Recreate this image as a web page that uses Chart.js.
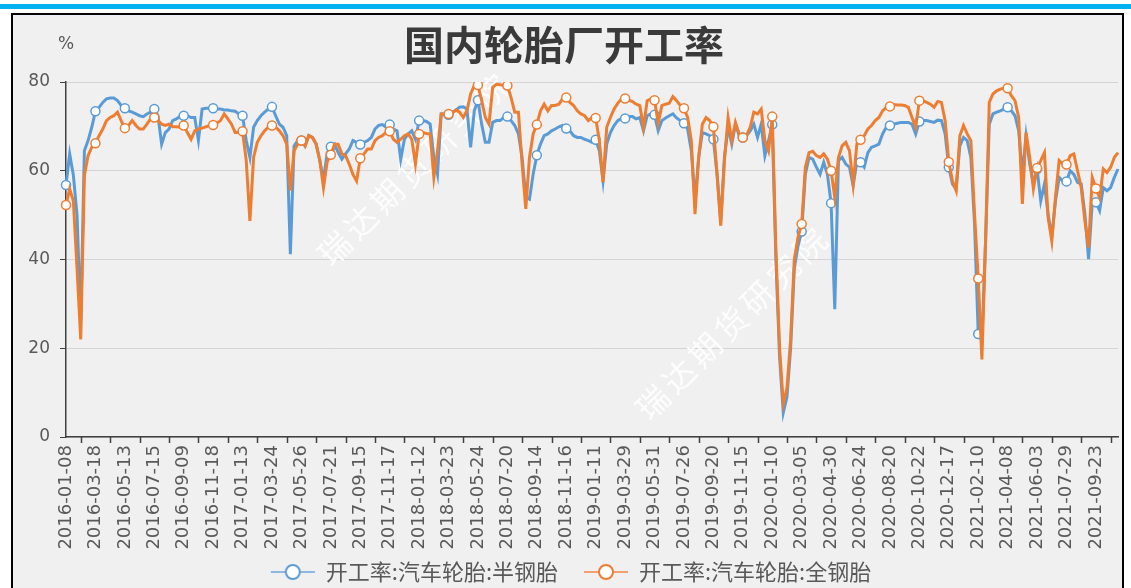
<!DOCTYPE html>
<html>
<head>
<meta charset="utf-8">
<script src="https://cdn.jsdelivr.net/npm/chart.js@4.4.1/dist/chart.umd.min.js"></script>
<style>
  html, body { margin: 0; padding: 0; overflow: hidden; background: #fff; }
</style>
</head>
<body>
<canvas id="tyreChart" width="1131" height="600"></canvas>
<script>
// weekly readings, one tick label every 8 weeks
const tickLabels = [
  '2016-01-08', '2016-03-18', '2016-05-13', '2016-07-15', '2016-09-09', '2016-11-18',
  '2017-01-13', '2017-03-24', '2017-05-26', '2017-07-21', '2017-09-15', '2017-11-17',
  '2018-01-12', '2018-03-23', '2018-05-24', '2018-07-20', '2018-09-14', '2018-11-16',
  '2019-01-11', '2019-03-29', '2019-05-31', '2019-07-26', '2019-09-20', '2019-11-15',
  '2020-01-10', '2020-03-05', '2020-04-30', '2020-06-24', '2020-08-20', '2020-10-22', '2020-12-17',
  '2021-02-10', '2021-04-08', '2021-06-03', '2021-07-29', '2021-09-23'
];

const seriesNames = ['开工率:汽车轮胎:半钢胎', '开工率:汽车轮胎:全钢胎'];

// 半钢胎
const semiSteel = [
  56.8, 63.8, 59, 50, 26, 64.5, 66.8, 69.8,
  73.4, 74.3, 75.4, 76.2, 76.4, 76.4, 75.8, 74.7,
  74.1, 73.5, 73.2, 72.8, 72.4, 72.2, 72.8, 73.2,
  73.9, 72.4, 66, 68.6, 69.4, 71.3, 71.7, 72.2,
  72.4, 72.4, 72, 72, 66.8, 73.9, 74.1, 74.1,
  74.1, 73.9, 73.9, 73.7, 73.7, 73.5, 73.4, 72.8,
  72.4, 66.8, 63, 69.8, 71.3, 72.4, 73.2, 73.9,
  74.4, 72.4, 70.5, 69.8, 67.9, 41.2, 65.6, 66.8,
  66.8, 65.6, 67.9, 67.5, 66, 62.3, 58, 64,
  65.4, 66, 64.1, 62.6, 63.8, 64.9, 66.8, 66.4,
  65.9, 66.4, 66.8, 67.5, 69.4, 70.2, 70.4, 69.8,
  70.4, 69.4, 69, 62.6, 67.1, 68.3, 69, 67.1,
  71.3, 71.3, 71.1, 70.5, 63, 59.2, 72.8, 72.8,
  72.6, 73.2, 73.7, 74.3, 74.4, 73.9, 65.3, 73.5,
  75.9, 70.5, 66.4, 66.4, 70.9, 71.3, 71.3, 72,
  72.2, 71.3, 70.2, 68.3, 63, 54, 53.6, 59.2,
  63.5, 66, 67.9, 68.3, 69, 69.4, 69.9, 70.2,
  69.5, 69, 67.9, 67.5, 67.5, 67.1, 66.8, 66.4,
  67, 64.5, 57.7, 66, 68.6, 70.2, 71.3, 71.8,
  71.8, 72.2, 72.2, 71.7, 72, 69, 72.4, 72.8,
  72.6, 69, 71.3, 71.9, 72.4, 72.8, 71.9, 71.3,
  70.7, 69.4, 64.5, 53.2, 63, 68.6, 68.3, 67.9,
  67.1, 59.2, 48.7, 63, 69.8, 66, 70.5, 67.9,
  67.5, 67.9, 69, 70.5, 67.5, 70.5, 63.4, 66.8,
  70.4, 40, 18, 5.5, 9, 20, 38, 43,
  46.3, 59.2, 63, 62.6, 60.8, 59.2, 61.9, 59.2,
  52.7, 28.8, 62.3, 63, 61.5, 60.8, 56.6, 62,
  61.9, 60.8, 64.1, 65.3, 65.6, 66, 68.3, 69.8,
  70.2, 70.5, 70.7, 70.9, 70.9, 70.9, 70.5, 68.3,
  71.1, 71.3, 71.3, 71.1, 70.9, 71.4, 71.3, 68.3,
  60.8, 57, 55.9, 65.6, 67.5, 66.8, 63, 48,
  23.2, 21.7, 44.2, 70.5, 72.8, 73.2, 73.5, 73.9,
  74.3, 73.5, 72.4, 69, 59.2, 67.9, 61.5, 57,
  60.4, 53.2, 57, 50.2, 45, 53.2, 58.5, 57.7,
  57.6, 60, 59.2, 57.4, 57, 50.2, 40.1, 52.9,
  52.9, 51, 56.2, 55.5, 56.2, 58.5, 60.4
];

// 全钢胎
const allSteel = [
  52.3, 55.9, 53.2, 38, 22, 59, 63.4, 65.3,
  66.2, 67.9, 69.4, 71.3, 72, 72.4, 73.2, 71.3,
  69.6, 70.2, 71.3, 70.2, 69.4, 69.4, 70.5, 71.7,
  72, 71.3, 70.5, 70.2, 70.5, 69.9, 69.9, 69.8,
  70.2, 68.6, 67.1, 69, 69.4, 69.6, 69.9, 70.2,
  70.3, 70.7, 71.3, 72.8, 71.7, 70.5, 68.6, 68.6,
  68.9, 62.3, 48.7, 63, 66.4, 67.9, 69, 69.8,
  70.2, 69.8, 69, 67.9, 66, 55.5, 64.5, 66,
  66.8, 65.6, 67.9, 67.5, 66, 62.3, 56.2, 62,
  63.6, 66, 66, 63.8, 63.4, 61.5, 59.2, 57.7,
  62.8, 63.8, 64.9, 64.9, 66.8, 67.5, 67.9, 68.6,
  68.9, 67.1, 66.4, 67.1, 67.9, 68.3, 67.1, 61.5,
  68.3, 68.6, 68.4, 68.3, 58.5, 64.5, 72.8, 72.8,
  72.8, 72.9, 73.7, 73.2, 72, 73.5, 77.3, 79.2,
  79.3, 75.8, 72, 70.5, 78.8, 79.5, 79.4, 79.2,
  79.2, 76.5, 73.2, 73.2, 61.5, 51.4, 63, 68.3,
  70.4, 73.5, 75, 73.5, 74.7, 74.7, 75, 76.2,
  76.5, 75.4, 74.7, 73.5, 72.8, 72.4, 71.3, 72,
  71.9, 66.8, 57.4, 69.8, 72, 73.9, 75.2, 76.2,
  76.3, 75.9, 75.6, 75, 74.7, 69.8, 75.8, 76.2,
  75.9, 70.7, 74.7, 75, 75.2, 76.7, 75.8, 74.7,
  74.1, 72, 66.8, 50.2, 63, 70.5, 72, 71.3,
  69.9, 59.2, 47.6, 62.3, 72, 66.8, 70.9, 68.3,
  67.5, 67.9, 69.8, 73.2, 72.8, 73.9, 66.8, 64.5,
  72.2, 42, 20, 7.5, 11, 22, 40, 45,
  48, 60.8, 64.1, 64.4, 63.4, 63, 63.8, 62.6,
  60, 54, 63, 65.6, 66.4, 64.5, 57, 66,
  67, 67.9, 69.4, 70.2, 71.3, 72, 73.5, 74.3,
  74.5, 74.9, 74.8, 74.8, 74.7, 74.3, 72, 69.8,
  75.8, 75.8, 75.4, 75, 74.3, 75.6, 75.4, 71.3,
  62, 57.7, 55.5, 67.9, 70.2, 68.3, 66.8, 50.2,
  35.7, 17.5, 44.2, 75.4, 77.3, 78, 78.4, 78.6,
  78.6, 76.9, 75.8, 72, 52.5, 68.6, 63, 55.9,
  60.6, 62.3, 64.1, 49.5, 44.2, 54, 62.3, 61.5,
  61.4, 63.4, 63.8, 60, 56.2, 48.7, 42.7, 58.5,
  56, 54, 60.4, 59.6, 60.8, 63, 64.1
];

const categories = semiSteel.map((v, i) => (i % 8 === 0 ? tickLabels[i / 8] : ''));

const BLUE = '#5b9bd5';
const ORANGE = '#ed7d31';
const textGrey = '#595959';

function legendIcon(color, light) {
  const c = document.createElement('canvas');
  c.width = 58; c.height = 18;
  const g = c.getContext('2d');
  g.strokeStyle = light; g.lineWidth = 2;
  g.beginPath(); g.moveTo(14, 9); g.lineTo(58, 9); g.stroke();
  g.strokeStyle = color;
  g.beginPath(); g.arc(36, 9, 7, 0, Math.PI * 2);
  g.fillStyle = '#fff'; g.fill(); g.stroke();
  return c;
}
const legendIcons = [legendIcon(BLUE, '#8fb8e2'), legendIcon(ORANGE, '#f2a070')];

// background, blue top bar and black frame
const framePlugin = {
  id: 'frame',
  beforeDraw(chart) {
    const c = chart.ctx;
    c.save();
    c.fillStyle = '#fff';
    c.fillRect(0, 0, chart.width, chart.height);
    c.fillStyle = '#00b0f0';
    c.fillRect(0, 4, chart.width, 5);
    c.fillStyle = '#f0f0f0';
    c.fillRect(12, 14, 1111, 620);
    c.strokeStyle = '#000';
    c.lineWidth = 2;
    c.strokeRect(12, 14, 1111, 620);
    c.restore();
  }
};

const watermarkPlugin = {
  id: 'watermark',
  beforeDatasetsDraw(chart) {
    const c = chart.ctx;
    c.save();
    c.font = '32px "Noto Sans CJK SC"';
    c.fillStyle = 'rgba(255,255,255,0.85)';
    c.textAlign = 'center';
    c.textBaseline = 'middle';
    if ('letterSpacing' in c) c.letterSpacing = '5px';
    [[415, 168], [733, 322]].forEach(([x, y]) => {
      c.save();
      c.translate(x, y);
      c.rotate(-45 * Math.PI / 180);
      c.fillText('瑞达期货研究院', 0, 0);
      c.restore();
    });
    c.restore();
  }
};

// x tick marks sit between labelled weeks; plus the unit label
const extrasPlugin = {
  id: 'extras',
  afterDraw(chart) {
    const c = chart.ctx;
    const xs = chart.scales.x;
    const area = chart.chartArea;
    c.save();
    c.strokeStyle = '#404040';
    c.lineWidth = 1.5;
    c.beginPath();
    for (let i = 4; i < semiSteel.length; i += 8) {
      const x = Math.round(xs.getPixelForValue(i)) + 0.5;
      c.moveTo(x, area.bottom);
      c.lineTo(x, area.bottom + 6);
    }
    c.stroke();
    c.font = '17px "DejaVu Sans"';
    c.fillStyle = textGrey;
    c.textAlign = 'center';
    c.textBaseline = 'middle';
    c.fillText('%', area.left, 45);
    c.restore();
  }
};

const ctx = document.getElementById('tyreChart').getContext('2d');

new Chart(ctx, {
  type: 'line',
  data: {
    labels: categories,
    datasets: [{
      label: seriesNames[0],
      data: semiSteel,
      borderColor: BLUE,
      borderWidth: 3,
      pointRadius: c => (c.dataIndex % 8 === 0 ? 4.5 : 0),
      pointBackgroundColor: '#fff',
      pointBorderColor: BLUE,
      pointBorderWidth: 1.5,
      tension: 0,
      order: 2
    }, {
      label: seriesNames[1],
      data: allSteel,
      borderColor: ORANGE,
      borderWidth: 3,
      pointRadius: c => (c.dataIndex % 8 === 0 ? 4.5 : 0),
      pointBackgroundColor: '#fff',
      pointBorderColor: ORANGE,
      pointBorderWidth: 1.5,
      tension: 0,
      order: 1
    }]
  },
  options: {
    responsive: false,
    animation: false,
    events: [],
    layout: { padding: { left: 10, right: 13, top: 14, bottom: 7 } },
    plugins: {
      title: {
        display: true,
        text: '国内轮胎厂开工率',
        color: '#3a3a3a',
        font: { family: 'Noto Sans CJK SC', size: 40, weight: 'bold' },
        padding: { top: 7, bottom: 13 }
      },
      legend: {
        position: 'bottom',
        labels: {
          usePointStyle: true,
          pointStyleWidth: 58,
          padding: 12,
          color: textGrey,
          font: { family: 'Noto Sans CJK SC', size: 22 },
          sort: (a, b) => a.datasetIndex - b.datasetIndex,
          generateLabels(chart) {
            const items = Chart.defaults.plugins.legend.labels.generateLabels(chart);
            items.forEach(it => { it.pointStyle = legendIcons[it.datasetIndex]; });
            return items;
          }
        }
      },
      tooltip: { enabled: false }
    },
    scales: {
      x: {
        offset: false,
        grid: { display: true, drawOnChartArea: false, drawTicks: false },
        border: { color: '#404040', width: 1.5 },
        ticks: {
          autoSkip: false,
          minRotation: 90,
          maxRotation: 90,
          padding: 8,
          color: textGrey,
          font: { family: 'DejaVu Sans', size: 18 },
          callback(value) {
            const lbl = this.getLabelForValue(value);
            return lbl ? lbl : null;
          }
        },
        afterFit(s) { s.height = 112; s.paddingLeft = 0; s.paddingRight = 0; }
      },
      y: {
        min: 0,
        max: 80,
        ticks: {
          stepSize: 20,
          padding: 10,
          color: textGrey,
          font: { family: 'DejaVu Sans', size: 17 }
        },
        grid: { color: '#d4d4d4', tickLength: 6, tickColor: '#404040' },
        border: { color: '#404040', width: 1.5 },
        afterFit(s) { s.width = 56; s.paddingTop = 0; s.paddingBottom = 0; }
      }
    }
  },
  plugins: [framePlugin, watermarkPlugin, extrasPlugin]
});
</script>
</body>
</html>
